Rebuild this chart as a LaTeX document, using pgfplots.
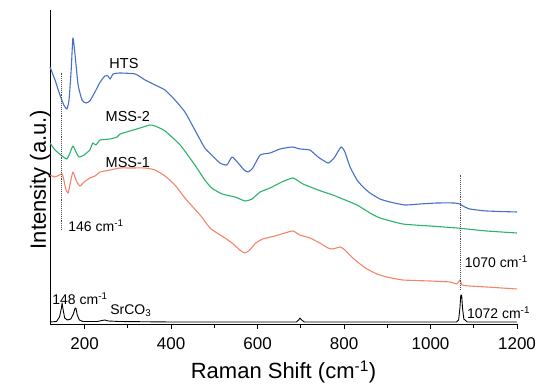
\documentclass[border=0pt]{standalone}
\usepackage{fontspec}
\setmainfont{Liberation Sans}
\usepackage{pgfplots}
\pgfplotsset{compat=1.18}
\definecolor{htsblue}{RGB}{70,112,200}
\definecolor{mssgreen}{RGB}{40,180,105}
\definecolor{mssorange}{RGB}{246,132,104}
\begin{document}
\begin{tikzpicture}
\begin{axis}[
  scale only axis, width=467pt, height=314pt,
  xmin=120, xmax=1200, ymin=0, ymax=314,
  axis lines=left, axis line style={-, line width=0.9pt},
  ytick=\empty,
  xtick={200,400,...,1200},
  minor xtick={300,500,...,1100},
  tick align=outside,
  major tick length=5pt, minor tick length=4pt,
  every tick/.style={black, line width=0.8pt},
  /pgf/number format/assume math mode=true,
  /pgf/number format/1000 sep={},
  tick label style={font=\fontsize{17}{20}\selectfont},
  xticklabel style={yshift=-5pt},
  xlabel={Raman Shift (cm\textsuperscript{-1})},
  ylabel={Intensity (a.u.)},
  label style={font=\fontsize{22}{26}\selectfont},
  xlabel style={yshift=-4pt},
  ylabel style={at={(rel axis cs:0,0.46)}, yshift=-4pt},
  every axis plot/.append style={line width=1.1pt, line join=round},
  clip=false,
]
% HTS
\addplot[htsblue, smooth, tension=0.3] coordinates {
(120,257) (131.6,244) (143,229) (152,219) (159,215) (164,224) (169,254) (173,286) (178,269) (185,239) (194,224) (203,221) (212,223) (224,232) (236,242) (247,248) (254,248) (259,245) (266,250) (282,251) (317,250) (340,244) (363,239) (386,234) (409,224) (432,212) (455,194) (478,176) (494,169) (513,161) (529,159) (541,167) (555,161) (569,154) (578,152) (589,156) (606,169) (629,171) (652,175) (680,177) (698,175) (721,174) (740,167) (763,161) (777,166) (793,177) (802,172) (814,157) (830,144) (844,137) (860,131) (883,125) (906,122) (941,119) (975,120) (1015,121) (1056,121) (1068,120) (1075,118) (1091,115) (1130,113) (1200,112)
};
% MSS-2
\addplot[mssgreen, smooth, tension=0.3] coordinates {
(120,181) (131.6,174) (148,168) (159,165) (166,171) (173,178) (180,172) (187,167) (199,169) (212,174) (219,181) (226,179) (236,184) (259,185) (275,187) (282,190) (305,193) (328,196) (351,199) (363,198) (386,193) (421,179) (455,159) (478,144) (494,136) (518,130) (548,127) (571,123) (587,125) (606,132) (629,136) (656,142) (682,146) (705,140) (740,134) (774,129) (797,125) (830,119) (860,111) (883,106) (936,100) (999,98) (1061,96) (1130,93) (1200,91)
};
% MSS-1
\addplot[mssorange, smooth, tension=0.3] coordinates {
(120,149) (131.6,147) (148,150) (152,144) (157,134) (162,131) (166,139) (173,152) (180,144) (189,138) (199,142) (212,146) (224,148) (236,152) (259,154) (282,156) (305,156) (340,156) (363,154) (386,148) (409,139) (432,126) (467,109) (490,96) (506,91) (525,86) (541,81) (559,74) (571,71) (582,74) (596,81) (612,85) (640,88) (663,91) (682,93) (698,89) (721,86) (744,81) (763,76) (774,75) (791,77) (802,74) (818,67) (837,60) (853,55) (876,50) (899,47) (936,44) (999,43) (1045,42) (1061,40) (1068,44) (1073,39) (1091,38) (1130,37) (1200,35)
};
% SrCO3
\addplot[black, line width=0.9pt] coordinates {
(120,2) (135,2.5) (142,7) (146,15) (148,21) (150,15) (154,6) (160,4) (168,5) (174,10) (178,16) (180,16) (183,9) (188,4) (196,2.5) (230,2.5) (240,3.5) (247,4) (255,3) (280,2.5) (400,2) (690,2) (695,4) (698,6) (702,4) (708,2) (1060,2) (1065,4) (1068,16) (1070,29) (1072,29) (1074,16) (1077,5) (1085,2) (1200,2)
};
% dotted markers
\addplot[densely dotted, black!70, line width=0.9pt] coordinates {(146,94) (146,251)};
\addplot[densely dotted, black!70, line width=0.9pt] coordinates {(1070,34) (1070,149)};
\node[font=\fontsize{14.5}{16}\selectfont] at (axis cs:291,260) {HTS};
\node[font=\fontsize{14.5}{16}\selectfont] at (axis cs:300,207) {MSS-2};
\node[font=\fontsize{14.5}{16}\selectfont] at (axis cs:300,161) {MSS-1};
\node[anchor=west, font=\fontsize{14}{16}\selectfont, inner sep=0pt] at (axis cs:162,98) {146 cm\textsuperscript{-1}};
\node[anchor=west, font=\fontsize{14}{16}\selectfont, inner sep=0pt] at (axis cs:125,25) {148 cm\textsuperscript{-1}};
\node[anchor=west, font=\fontsize{14}{16}\selectfont, inner sep=0pt] at (axis cs:259,13) {SrCO\textsubscript{3}};
\node[anchor=west, font=\fontsize{14}{16}\selectfont, inner sep=0pt] at (axis cs:1079,62) {1070 cm\textsuperscript{-1}};
\node[anchor=west, font=\fontsize{14}{16}\selectfont, inner sep=0pt] at (axis cs:1084,11) {1072 cm\textsuperscript{-1}};
\coordinate (O) at (rel axis cs:0,0);
\end{axis}
\pgfresetboundingbox
\path[use as bounding box] (O) ++(-50pt,-63pt) rectangle ++(537pt,387pt);
\end{tikzpicture}
\end{document}
